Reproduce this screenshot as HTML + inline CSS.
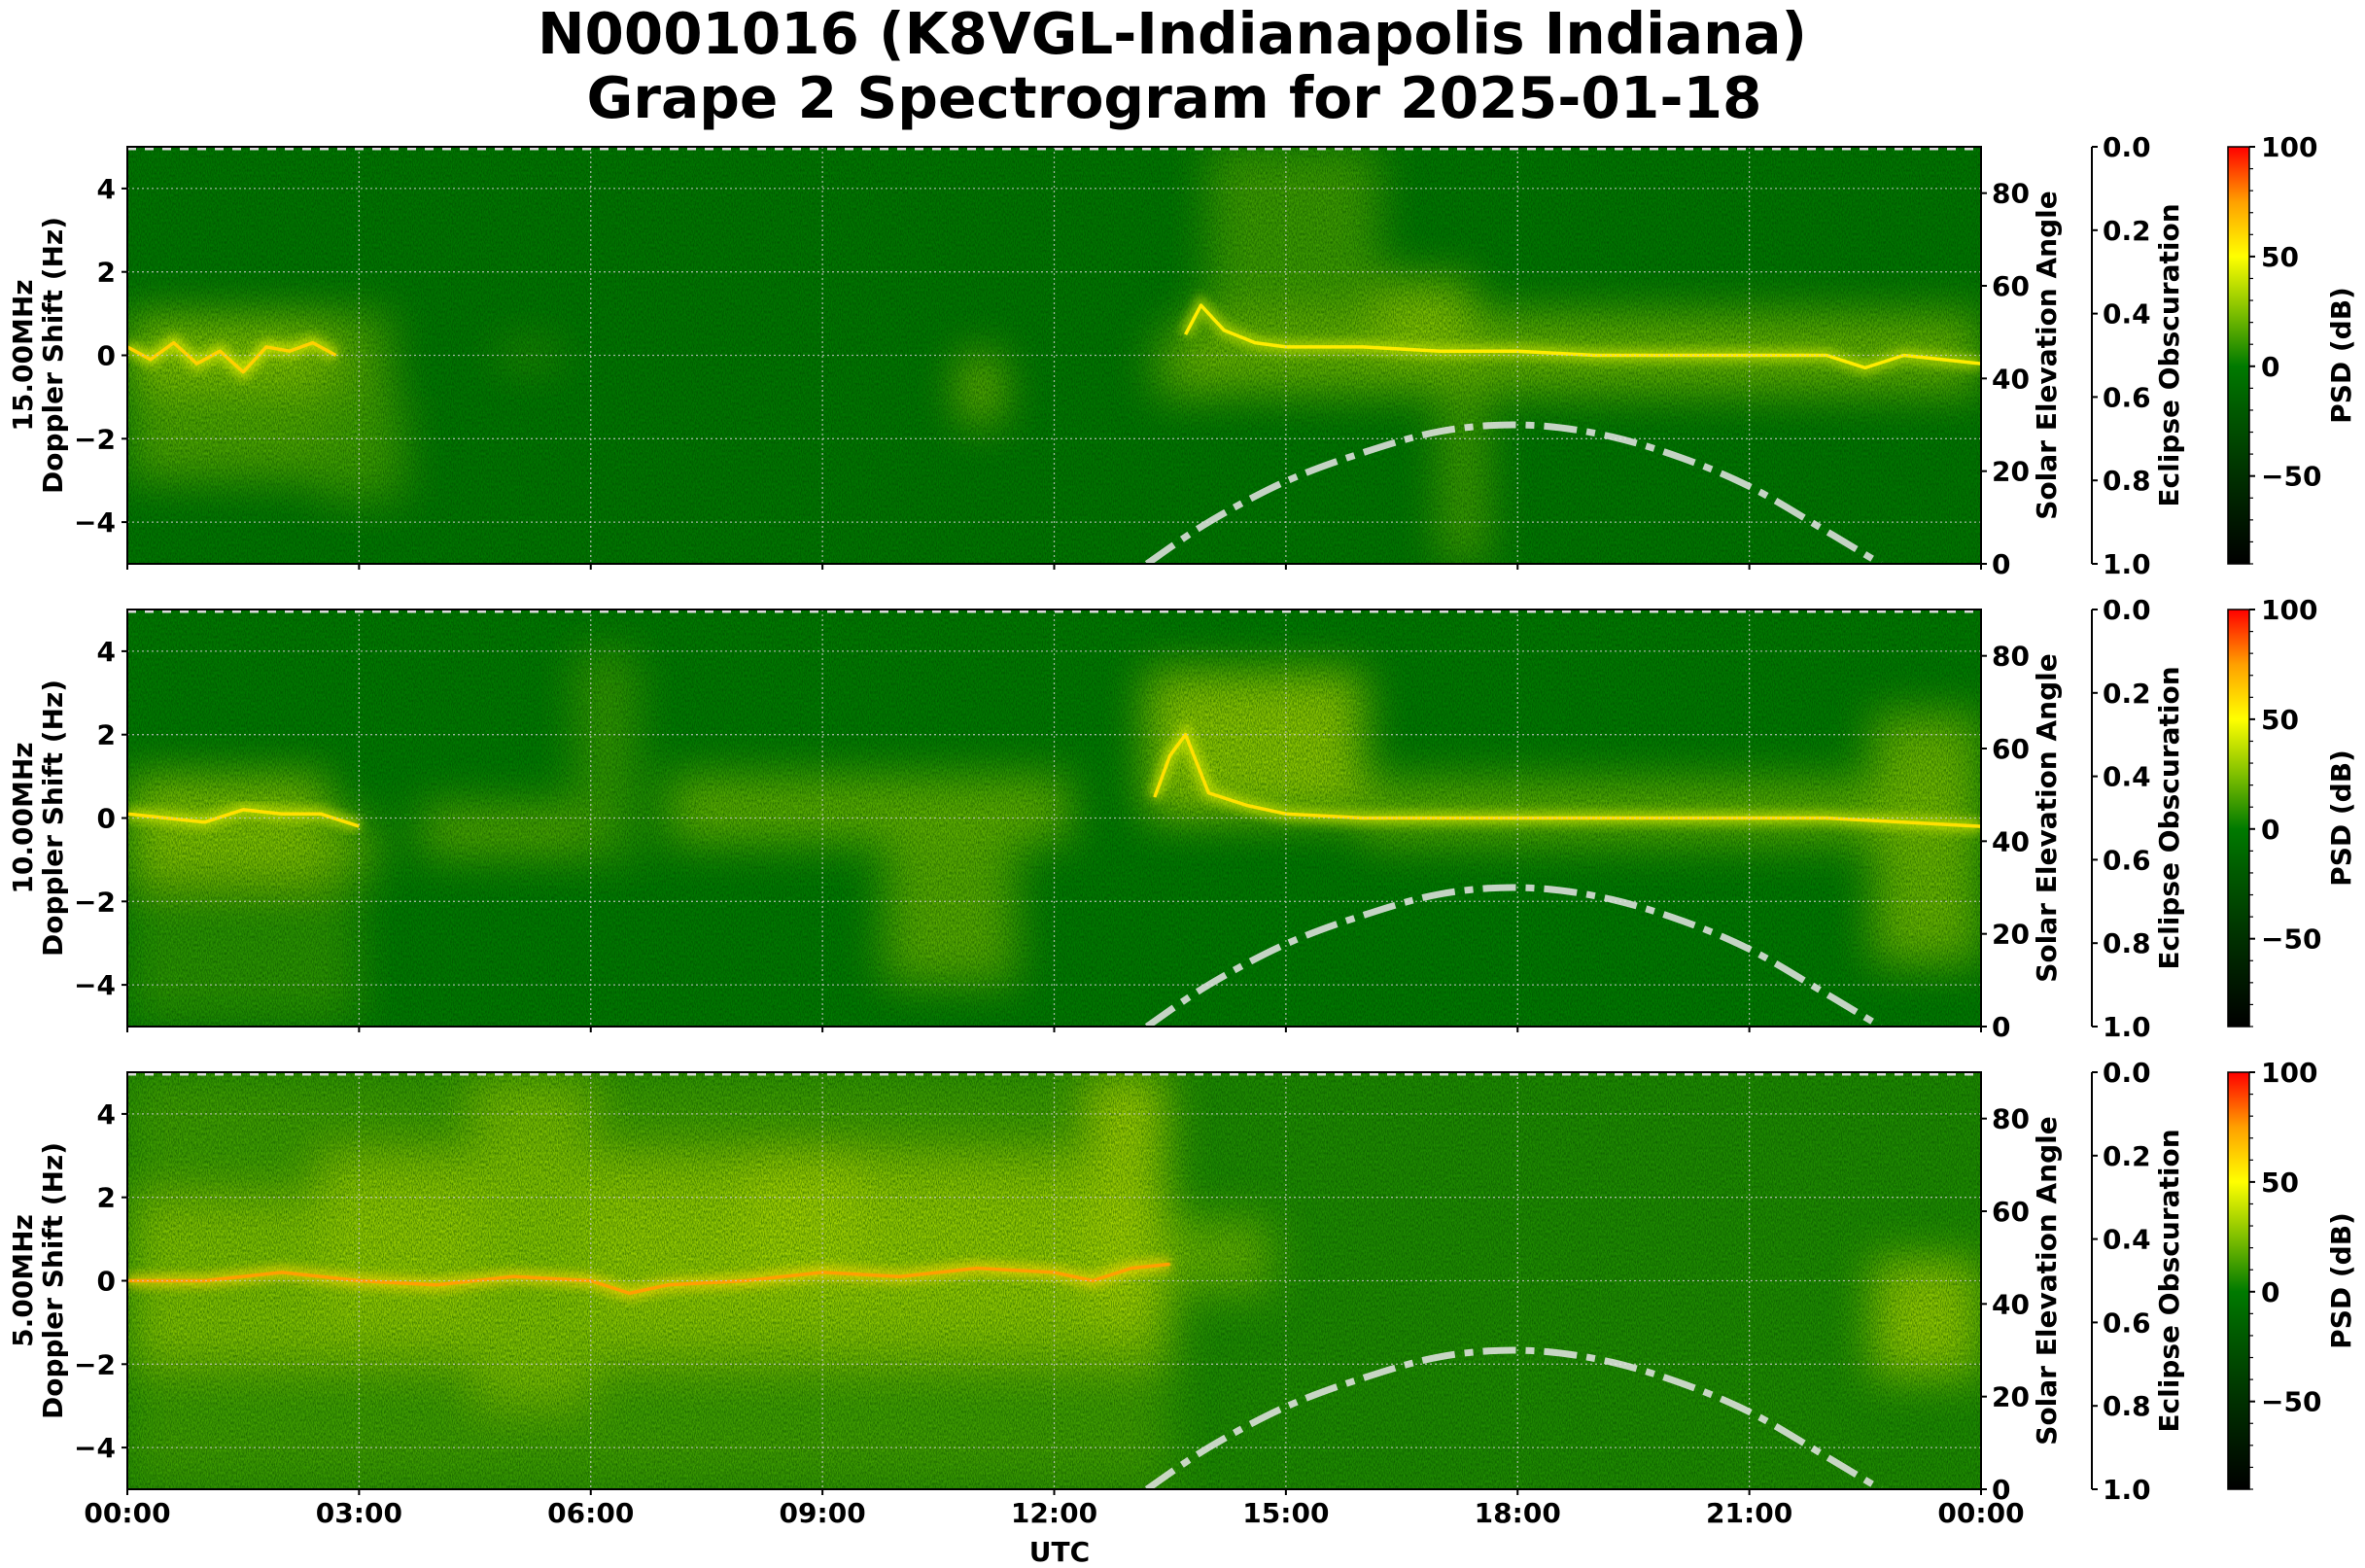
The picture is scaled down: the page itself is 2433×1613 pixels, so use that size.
<!DOCTYPE html>
<html><head><meta charset="utf-8"><style>
html,body{margin:0;padding:0;background:#fff;}
svg{display:block;font-family:"DejaVu Sans","Liberation Sans",sans-serif;font-weight:bold;}
</style></head><body>
<svg id="chart" xmlns="http://www.w3.org/2000/svg" width="2433" height="1613" viewBox="0 0 2433 1613">
<defs>
<filter id="blur" x="-50%" y="-50%" width="200%" height="200%"><feGaussianBlur stdDeviation="22"/></filter>
<filter id="blur2" x="-50%" y="-50%" width="200%" height="200%"><feGaussianBlur stdDeviation="5"/></filter>
<filter id="noise" x="0" y="0" width="100%" height="100%">
<feTurbulence type="fractalNoise" baseFrequency="0.9 0.35" numOctaves="2" seed="3" result="n"/>
<feColorMatrix type="matrix" values="0 0 0 0 0  0 0 0 0 0.05  0 0 0 0 0  0 0 0 -1.1 0.75"/>
</filter>
<linearGradient id="cbar" x1="0" y1="1" x2="0" y2="0">
<stop offset="0" stop-color="#000000"/><stop offset="0.21" stop-color="#003000"/>
<stop offset="0.37" stop-color="#005a00"/><stop offset="0.474" stop-color="#007a00"/>
<stop offset="0.605" stop-color="#80c000"/><stop offset="0.737" stop-color="#ffff00"/>
<stop offset="0.868" stop-color="#ffa000"/><stop offset="1" stop-color="#ff0000"/>
</linearGradient>
</defs>
<text x="1206" y="55" font-size="59" text-anchor="middle" textLength="1306" lengthAdjust="spacingAndGlyphs">N0001016 (K8VGL-Indianapolis Indiana)</text>
<text x="1208" y="121" font-size="59" text-anchor="middle" textLength="1209" lengthAdjust="spacingAndGlyphs">Grape 2 Spectrogram for 2025-01-18</text>
<g id="panels"></g>
<text x="1090" y="1606" font-size="28" text-anchor="middle">UTC</text>
</svg>
<script>
// ---------- data ----------
const freqLabels = ["15.00MHz", "10.00MHz", "5.00MHz"];
const baseDb = [-6, -2, 6];
const xTicks = ["00:00","03:00","06:00","09:00","12:00","15:00","18:00","21:00","00:00"];
const yTicks = [-4,-2,0,2,4];
const elevTicks = [0,20,40,60,80];
const eclTicks = ["0.0","0.2","0.4","0.6","0.8","1.0"];
const cbTicks = [100,50,0,-50];
const elevHours = [13.2, 14, 15, 16, 17, 18, 19, 20, 21, 22, 22.7];
const elevDeg   = [0, 9, 17.8, 24, 28.6, 30, 28.2, 23.6, 16.7, 7, 0];
// blobs: [startHour, endHour, lowHz, highHz, dB]
const blobs15 = [[0,3.4,-3,1,18],[0,2.6,-0.8,0.8,28],[2.5,3.6,-3.5,-1,12],[10.8,11.3,-1.6,0,28],[13.3,13.9,-1,0.5,18],[14,16.2,1,5,14],[13.7,24,-0.9,1,24],[16.2,17.4,0,1.8,28],[17,17.6,-5,-1,16],[4.8,5.6,-0.2,0.2,14]];
const blobs10 = [[0,2.6,-1.5,1,30],[0,3,-5,-1.5,10],[2.5,3.2,-1.4,0,22],[3.8,6,-0.9,0.3,20],[5.8,6.6,-1,4,12],[7,12.2,-0.6,1,22],[9.8,11.5,-4,-0.5,20],[13.2,16,0,3.5,32],[16,24,-0.6,0.9,22],[22.6,24,-3.5,2.5,24]];
const blobs5 = [[0,13.5,-5,5,14],[0,13.5,-2,2,28],[2.5,12.5,-1,3,30],[4.5,6,-3,5,26],[8,9.5,0,3,32],[12.5,13.4,-1,5,34],[13.3,14.8,-0.3,1.5,22],[22.6,24,-2.3,0.5,32]];
const blobSets = [blobs15, blobs10, blobs5];
// trace: doppler of main carrier vs hour
const trH15 = [0,0.3,0.6,0.9,1.2,1.5,1.8,2.1,2.4,2.7];
const trV15 = [0.2,-0.1,0.3,-0.2,0.1,-0.4,0.2,0.1,0.3,0.0];
const trH15b = [13.7,13.9,14.2,14.6,15,16,17,18,19,20,21,22,22.5,23,24];
const trV15b = [0.5,1.2,0.6,0.3,0.2,0.2,0.1,0.1,0.0,0.0,0.0,0.0,-0.3,0.0,-0.2];
const trH10 = [0,0.5,1,1.5,2,2.5,3];
const trV10 = [0.1,0.0,-0.1,0.2,0.1,0.1,-0.2];
const trH10b = [13.3,13.5,13.7,14,14.5,15,16,18,20,22,24];
const trV10b = [0.5,1.5,2.0,0.6,0.3,0.1,0.0,0.0,0.0,0.0,-0.2];
const trH5 = [0,1,2,3,4,5,6,6.5,7,8,9,10,11,12,12.5,13,13.5];
const trV5 = [0.0,0.0,0.2,0.0,-0.1,0.1,0.0,-0.3,-0.1,0.0,0.2,0.1,0.3,0.2,0.0,0.3,0.4];
const traces = [[[trH15,trV15,62],[trH15b,trV15b,55]],[[trH10,trV10,58],[trH10b,trV10b,58]],[[trH5,trV5,75]]];

// ---------- layout ----------
const L=131, R=2038, PH=429, tops=[151,627,1103];
const FS=28;
const NS="http://www.w3.org/2000/svg";
const xs = h => L + h*(R-L)/24;
const ys = (p,hz) => tops[p] + (5-hz)*PH/10;
const ye = (p,e) => tops[p] + PH - e*PH/90;
function mk(tag, attrs, parent){const e=document.createElementNS(NS,tag);for(const k in attrs)e.setAttribute(k,attrs[k]);parent.appendChild(e);return e;}
function smoothPath(pts){let d=`M${pts[0][0]},${pts[0][1]}`;for(let i=0;i<pts.length-1;i++){const p0=pts[Math.max(0,i-1)],p1=pts[i],p2=pts[i+1],p3=pts[Math.min(pts.length-1,i+2)];
  d+=` C${p1[0]+(p2[0]-p0[0])/6},${p1[1]+(p2[1]-p0[1])/6} ${p2[0]-(p3[0]-p1[0])/6},${p2[1]-(p3[1]-p1[1])/6} ${p2[0]},${p2[1]}`;}return d;}
const stops=[[-90,[0,0,0]],[-50,[0,80,0]],[-20,[0,110,0]],[0,[0,122,0]],[25,[128,192,0]],[50,[255,255,0]],[75,[255,160,0]],[100,[255,0,0]]];
function cmap(v){for(let i=1;i<stops.length;i++){if(v<=stops[i][0]){const a=stops[i-1],b=stops[i],t=(v-a[0])/(b[0]-a[0]);const c=a[1].map((x,j)=>Math.round(x+(b[1][j]-x)*t));return `rgb(${c})`;}}return "rgb(255,0,0)";}
const root=document.getElementById('panels');

for(let p=0;p<3;p++){
  const T=tops[p], B=T+PH;
  const g=mk('g',{},root);
  
  
  const cid='clip'+p;
  const cp=mk('clipPath',{id:cid},g); mk('rect',{x:L,y:T,width:R-L,height:PH},cp);
  const img=mk('g',{'clip-path':`url(#${cid})`},g);
  const bg=mk('rect',{x:L,y:T,width:R-L,height:PH,fill:cmap(baseDb[p])},img);
  
  
  const bl=mk('g',{filter:'url(#blur)'},img);
  blobSets[p].forEach(b=>{
    const r=mk('rect',{x:xs(b[0]),y:ys(p,b[3]),width:xs(b[1])-xs(b[0]),height:ys(p,b[2])-ys(p,b[3]),fill:cmap(b[4]),opacity:0.85},bl);
    
    
  });
  const nz=mk('rect',{x:L,y:T,width:R-L,height:PH,filter:'url(#noise)'},img);
  
  
  traces[p].forEach(tr=>{
    const pts=tr[0].map((h,i)=>xs(h)+','+ys(p,tr[1][i])).join(' ');
    mk('polyline',{points:pts,fill:'none',stroke:cmap(tr[2]-15),'stroke-width':14,opacity:0.6,filter:'url(#blur2)'},img);
    const pl=mk('polyline',{points:pts,fill:'none',stroke:cmap(tr[2]),'stroke-width':3.5,'stroke-linejoin':'round'},img);
    
    
  });
  // grid
  yTicks.forEach(v=>{mk('line',{x1:L,x2:R,y1:ys(p,v),y2:ys(p,v),stroke:'#c8c8c8','stroke-width':1.3,'stroke-dasharray':'2 3',opacity:0.8},img);});
  xTicks.forEach((t,i)=>{if(i>0&&i<8)mk('line',{x1:xs(i*3),x2:xs(i*3),y1:T,y2:B,stroke:'#c8c8c8','stroke-width':1.3,'stroke-dasharray':'2 3',opacity:0.8},img);});
  mk('line',{x1:L,x2:R,y1:T+2,y2:T+2,stroke:'#dddddd','stroke-width':3,'stroke-dasharray':'9 9'},img);
  // solar elevation curve
  const epts=elevHours.map((h,i)=>[xs(h),ye(p,elevDeg[i])]);
  const ec=mk('path',{d:smoothPath(epts),fill:'none',stroke:'#e6e6e6','stroke-opacity':0.85,'stroke-width':7,'stroke-dasharray':'34 10 9 10'},img);
  
  
  mk('rect',{x:L,y:T,width:R-L,height:PH,fill:'none',stroke:'#000','stroke-width':2},g);
  // left ticks
  yTicks.forEach(v=>{const y=ys(p,v);mk('line',{x1:L-6,x2:L,y1:y,y2:y,stroke:'#000','stroke-width':2},g);
    const t=mk('text',{x:119,y:y+10,'font-size':FS,'text-anchor':'end'},g);t.textContent=(v<0?'\u2212':'')+Math.abs(v);
    
    });
  const fl=mk('text',{x:0,y:0,'font-size':FS,'text-anchor':'middle',transform:`translate(33,${T+PH/2}) rotate(-90)`},g);fl.textContent=freqLabels[p];
  
  
  const dl=mk('text',{x:0,y:0,'font-size':FS,'text-anchor':'middle',transform:`translate(64,${T+PH/2}) rotate(-90)`},g);dl.textContent='Doppler Shift (Hz)';
  
  
  // right elevation axis
  elevTicks.forEach(v=>{const y=ye(p,v);mk('line',{x1:R,x2:R+6,y1:y,y2:y,stroke:'#000','stroke-width':2},g);
    const t=mk('text',{x:R+11,y:y+10,'font-size':FS},g);t.textContent=v;
    
    });
  const el=mk('text',{x:0,y:0,'font-size':FS,'text-anchor':'middle',transform:`translate(2115,${T+PH/2}) rotate(-90)`},g);el.textContent='Solar Elevation Angle';
  
  
  // eclipse axis
  mk('line',{x1:2152,x2:2152,y1:T,y2:B,stroke:'#000','stroke-width':2},g);
  eclTicks.forEach((v,i)=>{const y=T+i*PH/5;mk('line',{x1:2152,x2:2158,y1:y,y2:y,stroke:'#000','stroke-width':2},g);
    const t=mk('text',{x:2163,y:y+10,'font-size':FS},g);t.textContent=v;
    
    });
  const ecl=mk('text',{x:0,y:0,'font-size':FS,'text-anchor':'middle',transform:`translate(2241,${T+PH/2}) rotate(-90)`},g);ecl.textContent='Eclipse Obscuration';
  
  
  // colorbar
  const cb=mk('rect',{x:2292,y:T,width:22,height:PH,fill:'url(#cbar)',stroke:'#000','stroke-width':1.5},g);
  
  
  const cy=v=>T+(100-v)*PH/190;
  for(let v=-90;v<=100;v+=10){mk('line',{x1:2314,x2:2318,y1:cy(v),y2:cy(v),stroke:'#000','stroke-width':1.2},g);}
  cbTicks.forEach(v=>{const y=cy(v);mk('line',{x1:2314,x2:2320,y1:y,y2:y,stroke:'#000','stroke-width':2},g);
    const t=mk('text',{x:2326,y:y+10,'font-size':FS},g);t.textContent=(v<0?'\u2212':'')+Math.abs(v);
    
    });
  const pl=mk('text',{x:0,y:0,'font-size':FS,'text-anchor':'middle',transform:`translate(2418,${T+PH/2}) rotate(-90)`},g);pl.textContent='PSD (dB)';
  
  
  // x ticks
  xTicks.forEach((t,i)=>{const x=xs(i*3);mk('line',{x1:x,x2:x,y1:B,y2:B+6,stroke:'#000','stroke-width':2},g);
    if(p===2){const tx=mk('text',{x:x,y:B+34,'font-size':FS,'text-anchor':'middle'},g);tx.textContent=t;
      
      }});
}
</script>
</body></html>
